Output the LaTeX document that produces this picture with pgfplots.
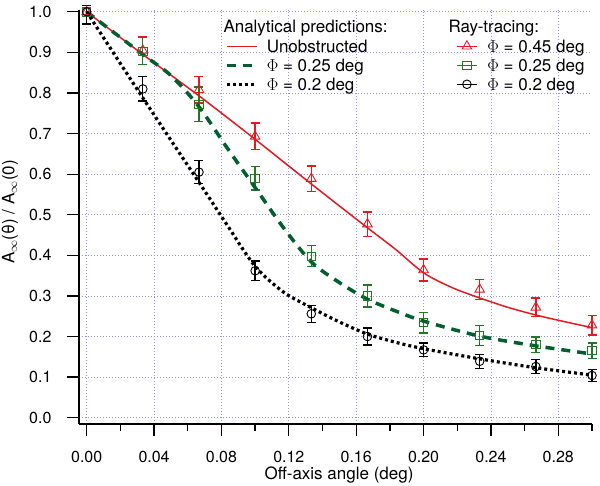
\documentclass[border=0pt]{standalone}
\usepackage{fontspec}
\setmainfont{TeX Gyre Heros}
\usepackage{pgfplots}
\pgfplotsset{compat=1.18}
\definecolor{rtred}{RGB}{230,25,35}
\definecolor{dgreen}{RGB}{0,95,45}
\definecolor{mgreen}{RGB}{35,120,35}
\definecolor{gridc}{RGB}{150,150,225}
\begin{document}
\begin{tikzpicture}
\useasboundingbox (0,0) rectangle (600pt,486pt);
\begin{axis}[
  at={(79pt,62pt)}, anchor=south west,
  scale only axis, width=513pt, height=414.2pt,
  xmin=-0.00457, xmax=0.30, ymin=-0.0155, ymax=1.005,
  axis lines=left, axis line style={-, line width=1.3pt},
  clip=false,
  tick align=outside, major tick length=12pt, minor tick length=7pt,
  every tick/.style={black, line width=1.3pt},
  xtick={0,0.04,0.08,0.12,0.16,0.20,0.24,0.28},
  minor xtick={0.02,0.06,0.10,0.14,0.18,0.22,0.26,0.30},
  ytick={0,0.1,0.2,0.3,0.4,0.5,0.6,0.7,0.8,0.9,1.0},
  grid=major,
  major grid style={gridc, line width=0.8pt, dash pattern=on 1pt off 2pt},
  tick label style={font=\fontsize{16}{19}\selectfont},
  /pgf/number format/assume math mode=true,
  xticklabel style={yshift=-12pt, /pgf/number format/.cd, fixed, fixed zerofill, precision=2},
  yticklabel style={xshift=-12pt, /pgf/number format/.cd, fixed, fixed zerofill, precision=1},
  legend style={at={(0.2846,0.9288)}, anchor=north west, draw=none, fill=none,
    inner sep=0pt, outer sep=0pt, row sep=5pt, column sep=8.3pt,
    font=\fontsize{17}{20}\selectfont,
    nodes={inner sep=0pt, text height=13pt, text depth=1pt}},
  legend cell align=left,
  legend image code/.code={\draw[#1] (0pt,0pt) -- (30pt,0pt);},
]
% Ray-tracing, Phi = 0.45 deg
\addplot[rtred, forget plot, only marks, mark=triangle, mark size=5.5pt,
  mark options={solid, line width=0.9pt},
  error bars/.cd, y dir=both, y explicit,
  error bar style={line width=1.3pt},
  error mark options={rotate=90, mark size=4.5pt, line width=1.3pt}]
coordinates {
 (0,1.0) += (0,0.015) -= (0,0.03)
 (0.03333,0.905) +- (0,0.034)
 (0.06667,0.808) +- (0,0.033)
 (0.1,0.693) +- (0,0.033)
 (0.13333,0.589) +- (0,0.031)
 (0.16667,0.477) +- (0,0.030)
 (0.2,0.364) +- (0,0.027)
 (0.23333,0.316) +- (0,0.025)
 (0.26667,0.272) +- (0,0.023)
 (0.3,0.228) +- (0,0.024)
};
% Ray-tracing, Phi = 0.25 deg
\addplot[mgreen, forget plot, only marks, mark=square, mark size=4.2pt,
  mark options={solid, line width=0.9pt},
  error bars/.cd, y dir=both, y explicit,
  error bar style={line width=1.3pt},
  error mark options={rotate=90, mark size=4.5pt, line width=1.3pt}]
coordinates {
 (0,1.0) += (0,0.015) -= (0,0.03)
 (0.03333,0.903) +- (0,0.033)
 (0.06667,0.772) +- (0,0.043)
 (0.1,0.590) +- (0,0.029)
 (0.13333,0.398) +- (0,0.026)
 (0.16667,0.300) +- (0,0.027)
 (0.2,0.234) +- (0,0.025)
 (0.23333,0.203) +- (0,0.025)
 (0.26667,0.180) +- (0,0.019)
 (0.3,0.165) +- (0,0.019)
};
% Ray-tracing, Phi = 0.2 deg
\addplot[black, forget plot, only marks, mark=o, mark size=4.3pt,
  mark options={solid, line width=0.9pt},
  error bars/.cd, y dir=both, y explicit,
  error bar style={line width=1.3pt},
  error mark options={rotate=90, mark size=4.5pt, line width=1.3pt}]
coordinates {
 (0,1.0) += (0,0.015) -= (0,0.03)
 (0.03333,0.810) +- (0,0.030)
 (0.06667,0.605) +- (0,0.028)
 (0.1,0.362) +- (0,0.024)
 (0.13333,0.256) +- (0,0.021)
 (0.16667,0.200) +- (0,0.021)
 (0.2,0.167) +- (0,0.017)
 (0.23333,0.139) +- (0,0.017)
 (0.26667,0.126) +- (0,0.017)
 (0.3,0.104) +- (0,0.015)
};
% Analytical: unobstructed
\addplot[rtred, line width=1.5pt, smooth, tension=0.5, no marks] coordinates {
 (0,1.0) (0.03333,0.895) (0.06667,0.793) (0.1,0.686) (0.13333,0.576)
 (0.16667,0.468) (0.18333,0.415) (0.2,0.357) (0.21667,0.321) (0.23333,0.295)
 (0.25,0.272) (0.26667,0.253) (0.28333,0.237) (0.3,0.222)
};
\addlegendentry{Unobstructed}
% Analytical: Phi = 0.25 deg
\addplot[dgreen, line width=3.5pt, dash pattern=on 9pt off 7pt, smooth, tension=0.5, no marks] coordinates {
 (0,1.0) (0.03333,0.895) (0.05,0.843) (0.06667,0.766) (0.08333,0.665)
 (0.1,0.567) (0.11667,0.469) (0.13333,0.384) (0.15,0.333) (0.16667,0.292)
 (0.18333,0.263) (0.2,0.238) (0.23333,0.201) (0.26667,0.177) (0.3,0.157)
};
\addlegendentry{$\Phi$ = 0.25 deg}
% Analytical: Phi = 0.2 deg
\addplot[black, line width=3.2pt, dash pattern=on 3pt off 3pt, smooth, tension=0.5, no marks] coordinates {
 (0,1.0) (0.03333,0.788) (0.06667,0.580) (0.08333,0.475) (0.1,0.373)
 (0.11667,0.310) (0.13333,0.271) (0.15,0.236) (0.16667,0.206) (0.18333,0.186)
 (0.2,0.170) (0.23333,0.145) (0.26667,0.123) (0.3,0.105)
};
\addlegendentry{$\Phi$ = 0.2 deg}
\end{axis}
\begin{axis}[
  at={(79pt,62pt)}, anchor=south west,
  scale only axis, width=513pt, height=414.2pt,
  xmin=-0.00457, xmax=0.30, ymin=-0.0155, ymax=1.005,
  hide axis,
  legend style={at={(0.7363,0.9288)}, anchor=north west, draw=none, fill=none,
    inner sep=0pt, outer sep=0pt, row sep=5pt, column sep=10.3pt,
    font=\fontsize{17}{20}\selectfont,
    nodes={inner sep=0pt, text height=13pt, text depth=1pt}},
  legend cell align=left,
  legend image code/.code={\path (-10pt,0pt) -- (10pt,0pt); \draw[#1] plot coordinates {(0pt,0pt)};},
]
\addlegendimage{rtred, mark=triangle, mark size=5.5pt, mark options={solid, line width=0.9pt}}
\addlegendentry{$\Phi$ = 0.45 deg}
\addlegendimage{mgreen, mark=square, mark size=4.2pt, mark options={solid, line width=0.9pt}}
\addlegendentry{$\Phi$ = 0.25 deg}
\addlegendimage{black, mark=o, mark size=4.3pt, mark options={solid, line width=0.9pt}}
\addlegendentry{$\Phi$ = 0.2 deg}
\end{axis}
\node[anchor=base west, inner sep=0pt, font=\fontsize{17}{20}\selectfont] at (223.3pt,453.5pt) {Analytical predictions:};
\node[anchor=base west, inner sep=0pt, font=\fontsize{17}{20}\selectfont] at (448.3pt,453.5pt) {Ray-tracing:};
\node[anchor=base, inner sep=0pt, font=\fontsize{17}{20}\selectfont] at (339pt,6pt) {Off-axis angle (deg)};
\node[rotate=90, anchor=center, inner sep=0pt, font=\fontsize{17}{20}\selectfont] at (10pt,274pt) {A$_\infty$(θ) / A$_\infty$(0)};
\end{tikzpicture}
\end{document}
